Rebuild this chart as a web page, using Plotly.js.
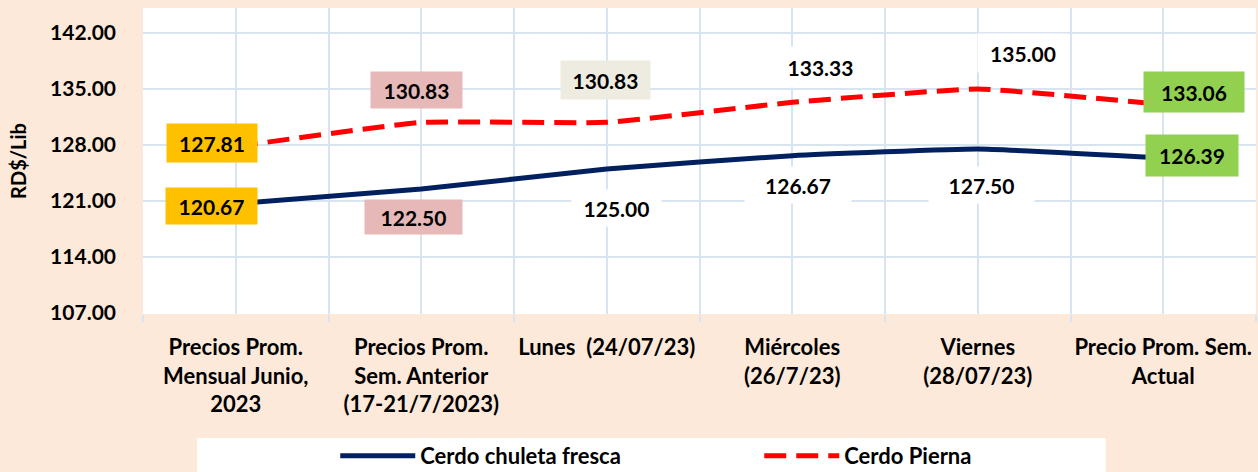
<!DOCTYPE html>
<html>
<head>
<meta charset="utf-8">
<script src="https://cdn.plot.ly/plotly-3.0.1.min.js"></script>
<style>
  html, body { margin: 0; padding: 0; background: #FDE9D9; }
  #chart { width: 1258px; height: 472px; }
</style>
</head>
<body>
<div id="chart"></div>
<script>
// datos
const categories = [
  "Precios Prom.<br>Mensual Junio,<br>2023",
  "Precios Prom.<br>Sem. Anterior<br>(17-21/7/2023)",
  "Lunes  (24/07/23)",
  "Miércoles<br>(26/7/23)",
  "Viernes<br>(28/07/23)",
  "Precio Prom. Sem.<br>Actual"
];
const chuleta = [120.67, 122.50, 125.00, 126.67, 127.50, 126.39];
const pierna = [127.81, 130.83, 130.83, 133.33, 135.00, 133.06];
const seriesNames = ["Cerdo chuleta fresca", "Cerdo Pierna"];

// estilo de las etiquetas de datos
const chuletaBg = ["#FFC000", "#E6B9B8", "#FFFFFF", "#FFFFFF", "#FFFFFF", "#92D050"];
const chuletaShift = [[-24, -2], [-8, -28], [10, -39], [6, -29], [4, -36], [29, 2]];
const chuletaBox = [[91, 36], [97, 34], [89, 36], [106, 36], [105, 36], [92, 41]];
const piernaBg = ["#FFC000", "#E6B9B8", "#EEECE1", "#FFFFFF", "#FFFFFF", "#92D050"];
const piernaShift = [[-24, 4], [-5, 32], [-1, 42], [28, 35], [45, 36], [31, 13]];
const piernaBox = [[90, 38], [91, 36], [89, 38], [97, 40], [90, 38], [100, 40]];

const fontFam = "Lato, 'Open Sans', sans-serif";
const grid = "#D9E4F1";
const xs = categories.map((c, i) => i);

function etiquetas(vals, bg, shift, box) {
  return vals.map((v, i) => ({
    x: xs[i],
    y: v,
    text: v.toFixed(2),
    showarrow: false,
    xshift: shift[i][0],
    yshift: shift[i][1],
    width: box[i][0],
    height: box[i][1],
    bgcolor: bg[i],
    borderpad: 0,
    font: { family: fontFam, size: 21, color: "#000", weight: "bold" }
  }));
}

const data = [
  {
    x: xs, y: chuleta, name: seriesNames[0], type: "scatter", mode: "lines",
    line: { color: "#002060", width: 5, shape: "spline", smoothing: 0.35 }
  },
  {
    x: xs, y: pierna, name: seriesNames[1], type: "scatter", mode: "lines",
    line: { color: "#FF0000", width: 5, shape: "spline", smoothing: 0.35, dash: "22px,10px" }
  }
];

const layout = {
  width: 1258,
  height: 472,
  paper_bgcolor: "#FDE9D9",
  plot_bgcolor: "#FFFFFF",
  margin: { l: 143, r: 2, t: 8, b: 158 },
  font: { family: fontFam, size: 20, color: "#000", weight: "bold" },
  showlegend: true,
  legend: {
    orientation: "h",
    xref: "container", yref: "container",
    x: 0.2665, xanchor: "left",
    y: 0.034, yanchor: "middle",
    bgcolor: "rgba(0,0,0,0)",
    entrywidth: 334,
    itemwidth: 75,
    font: { family: fontFam, size: 22, color: "#000", weight: "bold" }
  },
  xaxis: {
    range: [-0.5, 5.5],
    tickmode: "array",
    tickvals: xs,
    ticktext: categories,
    ticks: "",
    showgrid: true,
    gridcolor: grid,
    gridwidth: 2,
    zeroline: false,
    showline: false,
    fixedrange: true,
    minor: {
      tickmode: "array",
      tickvals: [-0.5, 0.5, 1.5, 2.5, 3.5, 4.5, 5.5],
      ticks: "outside",
      ticklen: 7,
      tickwidth: 2,
      tickcolor: grid,
      showgrid: true,
      gridcolor: grid,
      gridwidth: 2
    },
    tickfont: { family: fontFam, size: 22, color: "#000", weight: "bold" },
    ticklabelstandoff: 18
  },
  yaxis: {
    range: [106.875, 145.125],
    tick0: 107,
    dtick: 7,
    tickformat: ".2f",
    showgrid: true,
    gridcolor: grid,
    gridwidth: 2,
    zeroline: false,
    showline: false,
    ticks: "",
    fixedrange: true,
    ticklabelstandoff: 26,
    tickfont: { family: fontFam, size: 21, color: "#000", weight: "bold" },
    title: {
      text: "RD$/Lib",
      standoff: 18,
      font: { family: fontFam, size: 20, color: "#000", weight: "bold" }
    }
  },
  shapes: [
    {
      type: "rect", xref: "paper", yref: "paper", layer: "below",
      x0: 0.0485, x1: 0.865, y0: -0.6, y1: -0.405,
      fillcolor: "#FFFFFF", line: { width: 0 }
    }
  ],
  annotations: etiquetas(chuleta, chuletaBg, chuletaShift, chuletaBox)
    .concat(etiquetas(pierna, piernaBg, piernaShift, piernaBox))
};

Plotly.newPlot("chart", data, layout, { displayModeBar: false, staticPlot: true });
</script>
</body>
</html>
